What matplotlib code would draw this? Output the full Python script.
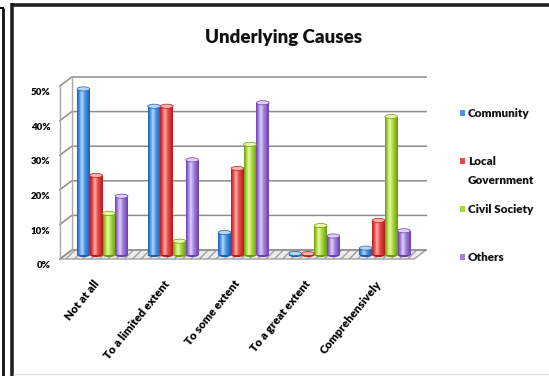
import matplotlib
matplotlib.use("Agg")
import matplotlib.pyplot as plt
import numpy as np
from matplotlib.colors import LinearSegmentedColormap
from matplotlib.patches import Ellipse, Polygon
from matplotlib.lines import Line2D
from matplotlib.transforms import offset_copy, ScaledTranslation, IdentityTransform

plt.rcParams['font.family'] = ['Lato', 'DejaVu Sans']
WEIGHT = 'heavy'

# ---- data -------------------------------------------------------------
title = "Underlying Causes"
categories = ["Not at all", "To a limited extent", "To some extent",
              "To a great extent", "Comprehensively"]
series = ["Community", "Local\nGovernment", "Civil Society", "Others"]
community = [48, 43, 6.5, 0.4, 2]
local_government = [23, 43, 25, 0.4, 10]
civil_society = [12, 4, 32, 8.5, 40]
others = [17, 27.5, 44, 5.5, 7]
y_ticks = [0, 10, 20, 30, 40, 50]
y_tick_labels = ["0%", "10%", "20%", "30%", "40%", "50%"]

values = [community, local_government, civil_society, others]
# (dark edge, base, highlight) per series
palettes = [
    ("#1d5cae", "#4b93e3", "#b3d8fc"),
    ("#b51b1b", "#e94848", "#fcb1aa"),
    ("#6b9a0c", "#a7d93a", "#e8f9a8"),
    ("#6a3eae", "#a27fdc", "#e2d0fc"),
]

W, H = 549, 376
fig = plt.figure(figsize=(W / 100, H / 100), dpi=100)
fig.patch.set_facecolor("white")

ax = fig.add_axes([56 / W, (H - 265) / H, (430 - 56) / W, (265 - 70) / H])
ax.set_xlim(-0.659, 4.639)
ax.set_ylim(-2.89, 53.47)
for s in ax.spines.values():
    s.set_visible(False)
ax.set_facecolor("none")

# 3D-style planes: back wall and front edge are shifted copies of the data space
back = offset_copy(ax.transData, fig=fig, x=6, y=5, units="dots")
front = offset_copy(ax.transData, fig=fig, x=-6, y=-4, units="dots")
x_left, x_right = -0.52, 4.5

def disp(tr, x, y):
    return tr.transform((x, y))

# floor
fl = [disp(front, x_left, 0), disp(front, x_right, 0),
      disp(back, x_right, 0), disp(back, x_left, 0)]
floor = Polygon(fl, closed=True, facecolor="#ececec", edgecolor="#a0a0a0",
                lw=1.0, hatch="////", zorder=1, clip_on=False)
floor.set_transform(IdentityTransform())
plt.rcParams['hatch.color'] = "#c4c4c4"
ax.add_artist(floor)

# gridlines on the back wall, with a slanted edge on the left side wall
for v in y_ticks:
    p0 = disp(front, x_left, v)
    p1 = disp(back, x_left, v)
    p2 = disp(back, x_right, v)
    ax.add_artist(Line2D([p0[0], p1[0], p2[0]], [p0[1], p1[1], p2[1]],
                         color="#8c8c8c", lw=1.1, zorder=1.2, clip_on=False,
                         transform=IdentityTransform()))
# vertical edges of the side wall
for tr in (front, back):
    a = disp(tr, x_left, 0)
    b = disp(tr, x_left, y_ticks[-1])
    ax.add_artist(Line2D([a[0], b[0]], [a[1], b[1]], color="#a8a8a8", lw=1.0,
                         zorder=1.2, clip_on=False, transform=IdentityTransform()))

# cylinder-shaded columns
n = len(values)
bw = 0.18
x = np.arange(len(categories))
grad = np.linspace(0, 1, 64).reshape(1, -1)
cap_h = 1.2
for i, (vals, (dark, base, light)) in enumerate(zip(values, palettes)):
    cmap = LinearSegmentedColormap.from_list(
        f"cyl{i}", [(0, dark), (0.18, base), (0.38, light), (0.62, base), (1, dark)])
    xs = x + (i - (n - 1) / 2) * bw
    bars = ax.bar(xs, vals, width=bw, color=base, edgecolor="none", zorder=3)
    for rect, xc, v in zip(bars, xs, vals):
        im = ax.imshow(grad, cmap=cmap, aspect="auto", zorder=3.1,
                       extent=(xc - bw / 2, xc + bw / 2, 0, v), interpolation="bilinear")
        im.set_clip_path(rect)
        ax.add_patch(Ellipse((xc, 0), bw, cap_h, facecolor=dark, edgecolor="none", zorder=2.9))
        ax.add_patch(Ellipse((xc, v), bw, cap_h, facecolor=light, edgecolor=dark,
                             lw=0.5, zorder=3.3))

ax.set_xlim(-0.659, 4.639)
ax.set_ylim(-2.89, 53.47)

# axis labels
ax.set_yticks(y_ticks, y_tick_labels)
ax.set_xticks(x, categories)
ax.tick_params(axis="both", length=0)
ax.tick_params(axis="y", pad=4, labelsize=7)
ax.tick_params(axis="x", pad=12, labelsize=8.3)
for lab in ax.get_yticklabels():
    lab.set_fontweight(WEIGHT)
    lab.set_transform(lab.get_transform() + ScaledTranslation(0, -7 / 72, fig.dpi_scale_trans))
for lab in ax.get_xticklabels():
    lab.set_fontweight(WEIGHT)
    lab.set_rotation(51)
    lab.set_ha("right")
    lab.set_va("center")
    lab.set_rotation_mode("anchor")
    lab.set_transform(lab.get_transform() + ScaledTranslation(-4 / 72, 0, fig.dpi_scale_trans))

# title
fig.text(284 / W, 1 - 38 / H, title, ha="center", va="center",
         fontsize=13.5, fontweight=WEIGHT, color="#111111")

# legend
leg_y = [113, 161, 209, 257]
for (dark, base, light), label, yy in zip(palettes, series, leg_y):
    fig.add_artist(plt.Rectangle((460 / W, 1 - (yy + 3) / H), 5 / W, 6 / H,
                                 transform=fig.transFigure, facecolor=base,
                                 edgecolor="none"))
    fig.text(468 / W, 1 - (yy - 5) / H, label, ha="left", va="top",
             fontsize=8.5, fontweight=WEIGHT, color="#111111", linespacing=1.9)

# frame lines
def hline(y, x0, x1, lw, c):
    fig.add_artist(Line2D([x0 / W, x1 / W], [1 - y / H, 1 - y / H], color=c, lw=lw,
                          transform=fig.transFigure, solid_capstyle="butt"))

def vline(x0, y0, y1, lw, c):
    fig.add_artist(Line2D([x0 / W, x0 / W], [1 - y0 / H, 1 - y1 / H], color=c, lw=lw,
                          transform=fig.transFigure, solid_capstyle="butt"))

vline(2.5, 8, H, 2.0, "#111111")
hline(8, 0, 3.5, 1.5, "#111111")
vline(12, 3, H, 2.6, "#222222")
hline(4.5, 11, W, 2.6, "#222222")
hline(374, 13, W, 1.0, "#e0e0e0")

fig.savefig("out.png", dpi=100, facecolor="white")
